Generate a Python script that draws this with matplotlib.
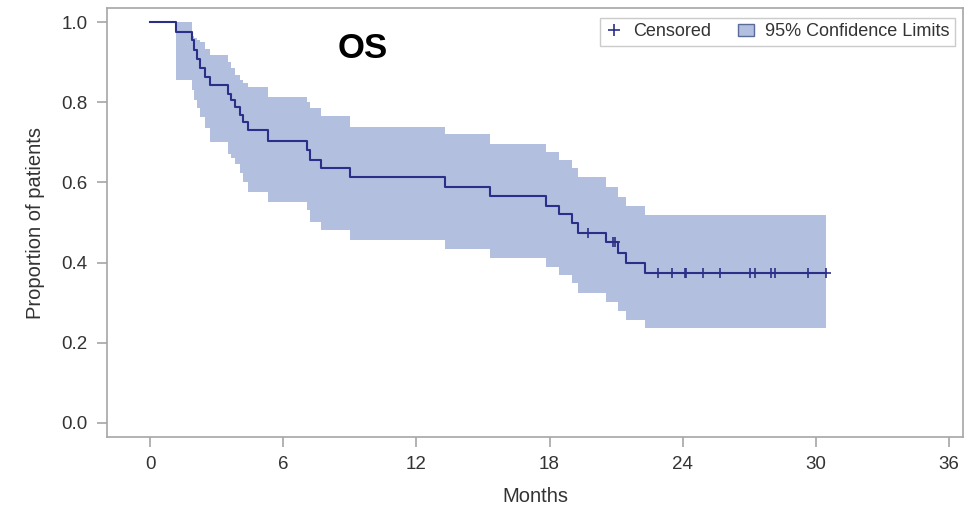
import matplotlib
matplotlib.use("Agg")
import matplotlib.pyplot as plt
from matplotlib.lines import Line2D
from matplotlib.patches import Patch

plt.rcParams['font.family'] = ['Liberation Sans', 'DejaVu Sans']

# Kaplan-Meier step values
times = [0, 1.17, 1.90, 2.00, 2.10, 2.25, 2.48, 2.70, 3.53, 3.63, 3.83, 4.05, 4.20,
         4.42, 5.33, 7.05, 7.20, 7.68, 9.00, 13.30, 15.33, 17.85, 18.41, 19.00,
         19.30, 20.55, 21.08, 21.45, 22.28]
surv = [1.0, 0.976, 0.955, 0.930, 0.909, 0.885, 0.864, 0.843, 0.822, 0.805, 0.789,
        0.768, 0.751, 0.731, 0.703, 0.681, 0.656, 0.635, 0.613, 0.588, 0.566, 0.541,
        0.521, 0.498, 0.475, 0.452, 0.425, 0.400, 0.375]
upper = [1.0, 1.0, 0.966, 0.960, 0.955, 0.951, 0.934, 0.918, 0.901, 0.885, 0.868,
         0.855, 0.848, 0.839, 0.814, 0.800, 0.785, 0.765, 0.739, 0.721, 0.697, 0.677,
         0.656, 0.635, 0.614, 0.588, 0.564, 0.541, 0.519]
lower = [1.0, 0.855, 0.830, 0.805, 0.785, 0.764, 0.735, 0.700, 0.672, 0.660, 0.645,
         0.623, 0.600, 0.577, 0.552, 0.531, 0.502, 0.481, 0.456, 0.434, 0.411, 0.390,
         0.369, 0.348, 0.323, 0.302, 0.280, 0.257, 0.236]
last_time = 30.48

censor_times = [19.73, 20.88, 20.95, 22.88, 23.51, 24.12, 24.17, 24.93, 25.70,
                27.03, 27.26, 27.98, 28.17, 29.63, 30.48]

x_ticks = [0, 6, 12, 18, 24, 30, 36]
y_ticks = [0.0, 0.2, 0.4, 0.6, 0.8, 1.0]

line_color = '#2B2F87'
band_color = '#B2BFDF'
frame_color = '#A6A6A6'
text_color = '#333333'


def surv_at(t):
    # value of the step function at time t
    val = surv[0]
    for ti, si in zip(times, surv):
        if ti <= t:
            val = si
    return val


fig = plt.figure(figsize=(9.73, 5.09), dpi=100)
ax = fig.add_axes([0.110, 0.1415, 0.8797, 0.8425])

xs = times + [last_time]
ax.fill_between(xs[1:], lower[1:] + [lower[-1]], upper[1:] + [upper[-1]],
                step='post', color=band_color, lw=0)
ax.step(xs, surv + [surv[-1]], where='post', color=line_color, lw=1.5)
ax.plot(censor_times, [surv_at(t) for t in censor_times], ls='none',
        marker='+', ms=7, mew=1.2, color=line_color)

ax.set_xlim(-1.94, 36.63)
ax.set_ylim(-0.035, 1.035)
ax.set_xticks(x_ticks)
ax.set_yticks(y_ticks)
ax.set_yticklabels([f'{v:.1f}' for v in y_ticks])

for sp in ax.spines.values():
    sp.set_color(frame_color)
    sp.set_linewidth(1.2)
ax.tick_params(colors=frame_color, labelcolor=text_color, labelsize=13.5,
               length=7, width=1.2, pad=7)

ax.set_xlabel('Months', fontsize=14.5, color=text_color, labelpad=10)
ax.set_ylabel('Proportion of patients', fontsize=14.5, color=text_color, labelpad=12)

ax.text(9.6, 0.935, 'OS', fontsize=25, fontweight='bold', color='black',
        ha='center', va='center')

handles = [
    Line2D([], [], ls='none', marker='+', ms=9, mew=1.2, color=line_color),
    Patch(facecolor=band_color, edgecolor='#5A6A99', lw=1.0),
]
leg = ax.legend(handles, ['Censored', '95% Confidence Limits'], loc='upper right',
                bbox_to_anchor=(0.9907, 0.977), ncol=2, fontsize=13, frameon=True,
                fancybox=False, edgecolor='#BFBFBF', handlelength=0.9,
                handletextpad=0.6, columnspacing=1.5, borderpad=0.3,
                borderaxespad=0)
leg.get_frame().set_linewidth(1.0)
for txt in leg.get_texts():
    txt.set_color(text_color)

fig.savefig('out.png', dpi=100)
